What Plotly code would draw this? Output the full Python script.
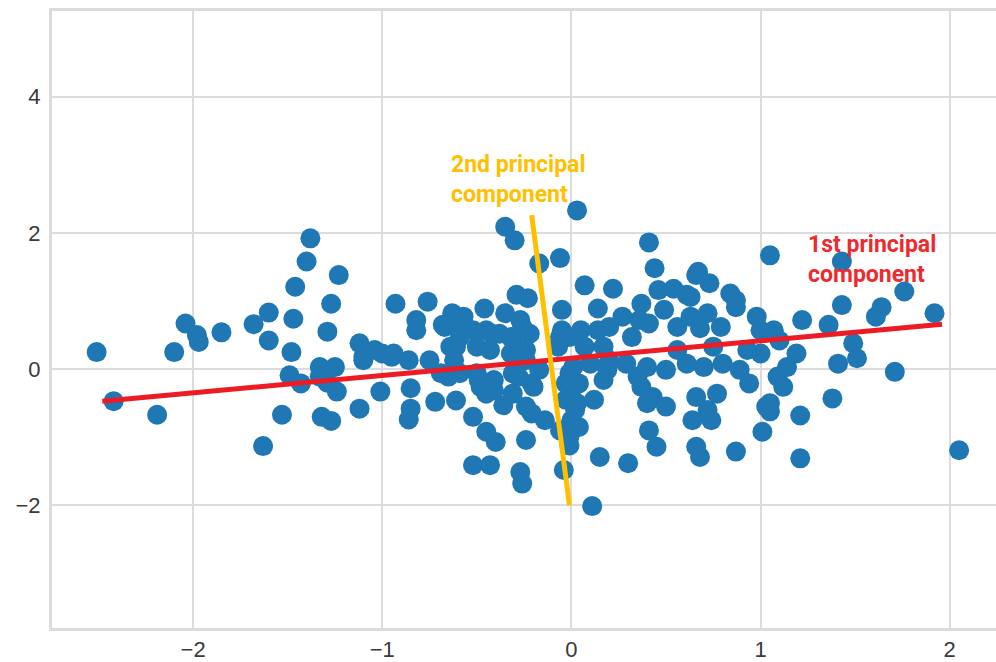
import plotly.graph_objects as go

# Scatter data
pts_x = [
    -2.51, -2.42, -2.19, -2.10, -2.04, -1.98, -1.97, -1.85, -1.68, -1.60,
    -1.60, -1.63, -1.47, -1.46, -1.40, -1.38, -1.48, -1.49, -1.43, -1.53,
    -1.33, -1.32, -1.27, -1.27, -1.29, -1.23, -1.29, -1.33, -1.25, -1.24,
    -1.12, -1.10, -1.12, -1.04, -1.00, -1.01, -0.93, -0.95, -0.86, -0.85,
    -0.85, -0.86, -0.82, -0.82, -0.76, -0.75, -0.72, -0.67, -0.63, -0.65,
    -0.61, -0.60, -0.61, -0.52, -0.46, -0.52, -0.49, -0.45, -0.45, -0.42,
    -0.35, -0.36, -0.35, -0.30, -0.29, -0.23, -0.31, -0.26, -0.24, -0.28,
    -0.21, -0.17, -0.21, -0.14, -0.06, -0.05, -0.05, -0.07, -0.01, 0.00,
    0.00, 0.04, 0.07, 0.05, 0.07, 0.04, 0.14, 0.14, 0.20, 0.22,
    0.27, 0.32, 0.37, 0.41, 0.44, 0.41, 0.37, 0.43, 0.41, 0.46,
    -0.68, -0.57, -0.27, -0.45, -0.38, -0.22, -0.64, -0.62, -0.69, -0.94,
    -1.10, -0.40, -0.52, -0.43, -0.27, -0.26, -0.24, -0.24, -0.48, -0.41,
    -0.31, -0.20, -0.17, -0.06, -0.04, 0.54, 0.61, 0.66, 0.73, 0.84,
    0.87, 0.20, 0.36, 0.49, 0.56, 0.63, 0.72, 0.79, 0.68, 0.98,
    1.00, -0.01, 0.01, 0.10, 0.19, 0.29, 0.40, 0.50, 0.61, 0.70,
    0.80, 0.89, 0.94, 1.00, 0.40, 0.50, 0.45, 0.66, 0.77, 0.72,
    0.64, 0.74, 0.66, 0.68, 0.87, 1.01, 1.03, 0.15, 0.30, -0.01,
    0.03, 1.22, 1.43, 1.36, 1.61, 1.64, 1.76, 1.92, 1.07, 1.19,
    1.14, 1.09, 1.12, 1.49, 1.51, 1.41, 1.71, 1.38, 1.05, 1.05,
    1.21, 1.21, 2.05, 0.03, 1.05, 1.43, 0.67, 0.63, 0.87, -0.01,
    0.11, -0.03, -0.03, 0.02, -0.06, -0.59, -0.50, -0.32, -0.24, -0.43,
    -0.32, -0.41, -0.31, -0.50, -0.59, 0.17, 0.56, 0.75, 0.93, 0.12,
    0.17, 0.35, 1.10,
]
pts_y = [
    0.25, -0.47, -0.67, 0.25, 0.67, 0.50, 0.40, 0.54, 0.66, 0.83,
    0.42, -1.13, 0.74, 1.21, 1.58, 1.92, 0.25, -0.09, -0.21, -0.67,
    0.03, -0.70, -0.76, 0.96, 0.55, 1.38, -0.20, -0.11, 0.03, -0.33,
    0.38, 0.13, -0.58, 0.28, 0.23, -0.33, 0.96, 0.18, 0.13, -0.28,
    -0.58, -0.74, 0.72, 0.57, 0.99, 0.13, -0.48, 0.62, 0.82, -0.11,
    -0.46, 0.72, 0.33, -0.70, 0.89, 0.57, -0.16, -0.36, -0.92, 0.52,
    0.82, -0.53, 2.09, 1.89, 1.09, 1.04, 0.43, 0.62, 0.13, -0.11,
    -0.21, 1.55, -0.65, -0.75, 1.63, 0.87, 0.57, 0.33, -0.06, -0.41,
    -0.75, -0.21, 1.23, 0.57, 0.33, -0.85, 0.89, 0.57, 0.13, 1.18,
    0.77, 0.47, 0.96, 1.86, 1.48, 0.67, -0.26, -0.41, -0.90, 1.16,
    0.65, 0.77, 0.72, 0.57, 0.52, 0.52, 0.33, 0.13, -0.06, 0.23,
    0.18, -1.07, -1.41, -1.41, -1.51, -1.68, -1.04, -0.55, -0.26, -0.16,
    -0.06, -0.26, -0.01, 0.47, -1.48, 1.18, 1.09, 1.38, 1.26, 1.11,
    0.91, 0.62, 0.72, 0.87, 0.62, 0.77, 0.82, 0.62, 0.60, 0.77,
    0.57, 0.47, 0.03, 0.08, -0.01, 0.08, 0.03, -0.01, 0.08, 0.03,
    0.08, -0.01, -0.21, 0.23, -0.50, -0.55, -1.14, -0.41, -0.36, -0.60,
    -0.75, -0.75, -1.14, -1.29, -1.21, -0.92, -0.55, -1.29, -1.38, -0.99,
    -0.50, 0.72, 0.94, 0.65, 0.77, 0.91, 1.14, 0.82, 0.57, 0.23,
    0.03, -0.11, -0.26, 0.38, 0.16, 0.08, -0.04, -0.43, -0.50, -0.62,
    -0.68, -1.31, -1.19, 2.33, 1.67, 1.58, 1.43, 1.06, 1.01, -1.12,
    -2.01, -0.21, -0.45, -0.60, -0.90, 0.47, 0.33, 0.23, 0.28, 0.28,
    0.47, -0.31, -0.36, -0.06, -0.06, 0.33, 0.28, 0.33, 0.28, -0.45,
    -0.16, -0.11, 0.42,
]

# Principal component axes (end points)
pc1_x = [-2.48, 1.96]
pc1_y = [-0.47, 0.66]
pc2_x = [-0.21, -0.01]
pc2_y = [2.26, -2.00]

x_ticks = [-2, -1, 0, 1, 2]
x_tick_text = ["\u22122", "\u22121", "0", "1", "2"]
y_ticks = [-2, 0, 2, 4]
y_tick_text = ["\u22122", "0", "2", "4"]

fig = go.Figure()
fig.add_trace(go.Scatter(
    x=pts_x, y=pts_y, mode="markers",
    marker=dict(size=20, color="#1f77b4", line=dict(width=0)),
    showlegend=False, hoverinfo="skip",
))
fig.add_trace(go.Scatter(
    x=pc1_x, y=pc1_y, mode="lines",
    line=dict(color="#ed1c24", width=5),
    showlegend=False, hoverinfo="skip",
))
fig.add_trace(go.Scatter(
    x=pc2_x, y=pc2_y, mode="lines",
    line=dict(color="#ffc000", width=5),
    showlegend=False, hoverinfo="skip",
))

label_font = "Roboto, Lato, sans-serif"
fig.add_annotation(
    x=-0.647, y=2.78, xref="x", yref="y", xanchor="left", yanchor="middle",
    text="<b>2nd principal<br>component</b>", showarrow=False, align="left",
    font=dict(family=label_font, size=23, color="#ffc000"),
)
fig.add_annotation(
    x=1.24, y=1.61, xref="x", yref="y", xanchor="left", yanchor="middle",
    text="<b>1st principal<br>component</b>", showarrow=False, align="left",
    font=dict(family=label_font, size=23, color="#ee2a2f"),
)

axis_common = dict(
    showgrid=True, gridcolor="#dcdcdc", gridwidth=2,
    zeroline=False, showline=True, linecolor="#dcdcdc", linewidth=3,
    mirror=True, ticks="", automargin=False,
    tickfont=dict(family="Liberation Sans, Arial, sans-serif", size=22, color="#3a3a3a"),
)

fig.update_layout(
    width=996, height=662,
    margin=dict(l=52, r=0, t=11, b=34),
    paper_bgcolor="white", plot_bgcolor="white",
    xaxis=dict(range=[-2.746, 2.245], tickvals=x_ticks, ticktext=x_tick_text,
               ticklabelstandoff=0, **axis_common),
    yaxis=dict(range=[-3.80, 5.257], tickvals=y_ticks, ticktext=y_tick_text,
               ticklabelstandoff=4, **axis_common),
)

fig.write_html(
    "out.html",
    config={"displayModeBar": False},
    post_script="document.body.style.margin='0';document.body.style.overflow='hidden';",
)
